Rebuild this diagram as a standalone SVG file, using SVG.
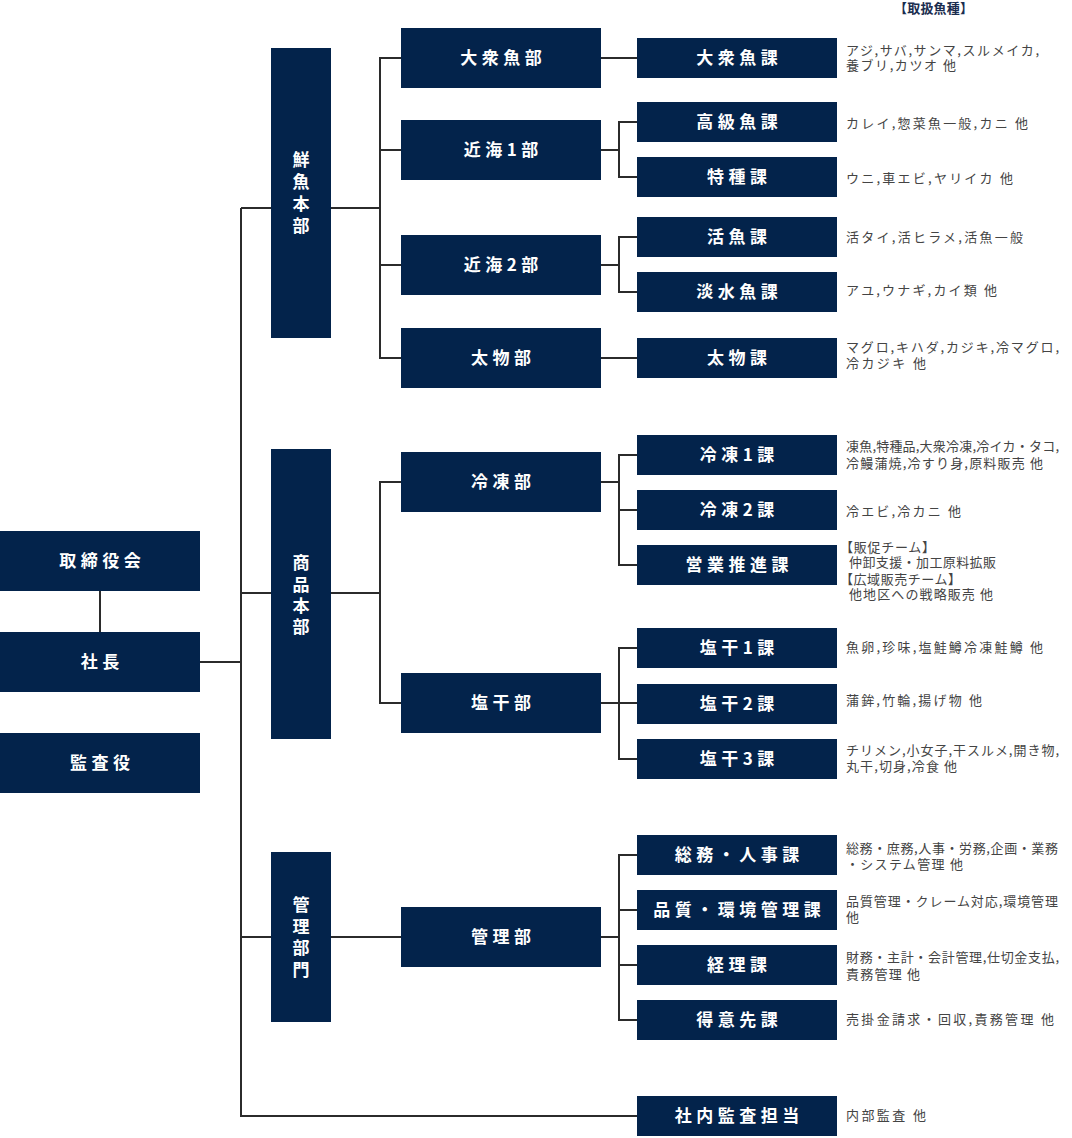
<svg xmlns="http://www.w3.org/2000/svg" width="1072" height="1138" viewBox="0 0 1072 1138">
<style>
.box{fill:#03234b}
.lb{font-family:"Noto Sans CJK JP","Noto Sans",sans-serif;font-size:17px;font-weight:bold;fill:#fff;letter-spacing:4.5px;text-anchor:middle}
.vl{font-family:"Noto Sans CJK JP","Noto Sans",sans-serif;font-size:17px;font-weight:bold;fill:#fff;text-anchor:middle}
.ds{font-family:"Noto Sans CJK JP","Noto Sans",sans-serif;font-size:13px;fill:#444}
.hd{font-family:"Noto Sans CJK JP","Noto Sans",sans-serif;font-size:13px;font-weight:bold;fill:#1b2d4f}
.cn{fill:none;stroke:#2b2b2b;stroke-width:2}
</style>
<rect width="1072" height="1138" fill="#fff"/>
<g id="connectors" class="cn">
<path d="M100,591V632"/>
<path d="M200,662H241"/>
<path d="M241,208V1116H637"/>
<path d="M241,208H271M241,593H271M241,937H271"/>
<path d="M331,208H380M401,58H380V358H401M380,150H401M380,265H401"/>
<path d="M601,58H637"/>
<path d="M601,150H619M637,122H619V177H637"/>
<path d="M601,265H619M637,237H619V292H637"/>
<path d="M601,358H637"/>
<path d="M331,593H380M401,482H380V703H401"/>
<path d="M601,482H619M637,455H619V565H637M619,510H637"/>
<path d="M601,703H637M637,648H619V759H637"/>
<path d="M331,937H401"/>
<path d="M601,937H619M637,855H619V1020H637M619,910H637M619,965H637"/>
</g>
<text class="hd" x="894" y="13" textLength="79" lengthAdjust="spacing">【取扱魚種】</text>
<g id="n-torishimariyakukai"><rect class="box" x="0" y="531" width="200" height="60"/><text class="lb" x="102.25" y="567">取締役会</text></g>
<g id="n-shacho"><rect class="box" x="0" y="632" width="200" height="60"/><text class="lb" x="102.25" y="668">社長</text></g>
<g id="n-kansayaku"><rect class="box" x="0" y="733" width="200" height="60"/><text class="lb" x="102.25" y="769">監査役</text></g>
<g id="n-sengyo"><rect class="box" x="271" y="48" width="60" height="290"/><text class="vl"><tspan x="301" y="166">鮮</tspan><tspan x="301" y="188">魚</tspan><tspan x="301" y="210">本</tspan><tspan x="301" y="232">部</tspan></text></g>
<g id="n-shohin"><rect class="box" x="271" y="449" width="60" height="290"/><text class="vl"><tspan x="301" y="569">商</tspan><tspan x="301" y="591">品</tspan><tspan x="301" y="612">本</tspan><tspan x="301" y="633">部</tspan></text></g>
<g id="n-kanribumon"><rect class="box" x="271" y="852" width="60" height="170"/><text class="vl"><tspan x="301" y="911">管</tspan><tspan x="301" y="933">理</tspan><tspan x="301" y="954">部</tspan><tspan x="301" y="976">門</tspan></text></g>
<g id="n-taishugyobu"><rect class="box" x="401" y="28" width="200" height="60"/><text class="lb" x="503.25" y="64">大衆魚部</text></g>
<g id="n-kinkai1"><rect class="box" x="401" y="120" width="200" height="60"/><text class="lb" x="503.25" y="156">近海1部</text></g>
<g id="n-kinkai2"><rect class="box" x="401" y="235" width="200" height="60"/><text class="lb" x="503.25" y="271">近海2部</text></g>
<g id="n-futomonobu"><rect class="box" x="401" y="328" width="200" height="60"/><text class="lb" x="503.25" y="364">太物部</text></g>
<g id="n-reitobu"><rect class="box" x="401" y="452" width="200" height="60"/><text class="lb" x="503.25" y="488">冷凍部</text></g>
<g id="n-enkanbu"><rect class="box" x="401" y="673" width="200" height="60"/><text class="lb" x="503.25" y="709">塩干部</text></g>
<g id="n-kanribu"><rect class="box" x="401" y="907" width="200" height="60"/><text class="lb" x="503.25" y="943">管理部</text></g>
<g id="n-taishugyoka"><rect class="box" x="637" y="38" width="200" height="40"/><text class="lb" x="739.25" y="64">大衆魚課</text><text class="ds"><tspan x="846" y="55" textLength="193" lengthAdjust="spacing">アジ,サバ,サンマ,スルメイカ,</tspan><tspan x="846" y="70" textLength="110" lengthAdjust="spacing">養ブリ,カツオ 他</tspan></text></g>
<g id="n-kokyugyoka"><rect class="box" x="637" y="102" width="200" height="40"/><text class="lb" x="739.25" y="128">高級魚課</text><text class="ds" x="846" y="128" textLength="182" lengthAdjust="spacing">カレイ,惣菜魚一般,カニ 他</text></g>
<g id="n-tokushuka"><rect class="box" x="637" y="157" width="200" height="40"/><text class="lb" x="739.25" y="183">特種課</text><text class="ds" x="846" y="183" textLength="167" lengthAdjust="spacing">ウニ,車エビ,ヤリイカ 他</text></g>
<g id="n-katsugyoka"><rect class="box" x="637" y="217" width="200" height="40"/><text class="lb" x="739.25" y="243">活魚課</text><text class="ds" x="846" y="242" textLength="177" lengthAdjust="spacing">活タイ,活ヒラメ,活魚一般</text></g>
<g id="n-tansuigyoka"><rect class="box" x="637" y="272" width="200" height="40"/><text class="lb" x="739.25" y="298">淡水魚課</text><text class="ds" x="846" y="295" textLength="151" lengthAdjust="spacing">アユ,ウナギ,カイ類 他</text></g>
<g id="n-futomonoka"><rect class="box" x="637" y="338" width="200" height="40"/><text class="lb" x="739.25" y="364">太物課</text><text class="ds"><tspan x="846" y="352" textLength="213" lengthAdjust="spacing">マグロ,キハダ,カジキ,冷マグロ,</tspan><tspan x="846" y="368" textLength="80" lengthAdjust="spacing">冷カジキ 他</tspan></text></g>
<g id="n-reito1"><rect class="box" x="637" y="435" width="200" height="40"/><text class="lb" x="739.25" y="461">冷凍1課</text><text class="ds"><tspan x="846" y="451" textLength="213" lengthAdjust="spacing">凍魚,特種品,大衆冷凍,冷イカ・タコ,</tspan><tspan x="846" y="468" textLength="197" lengthAdjust="spacing">冷鰻蒲焼,冷すり身,原料販売 他</tspan></text></g>
<g id="n-reito2"><rect class="box" x="637" y="490" width="200" height="40"/><text class="lb" x="739.25" y="516">冷凍2課</text><text class="ds" x="846" y="515.5" textLength="115" lengthAdjust="spacing">冷エビ,冷カニ 他</text></g>
<g id="n-eigyosuishin"><rect class="box" x="637" y="545" width="200" height="40"/><text class="lb" x="739.25" y="571">営業推進課</text><text class="ds"><tspan x="840" y="552" textLength="95" lengthAdjust="spacing">【販促チーム】</tspan><tspan x="849" y="567" textLength="147" lengthAdjust="spacing">仲卸支援・加工原料拡販</tspan><tspan x="840" y="584" textLength="121" lengthAdjust="spacing">【広域販売チーム】</tspan><tspan x="849" y="598.5" textLength="144" lengthAdjust="spacing">他地区への戦略販売 他</tspan></text></g>
<g id="n-enkan1"><rect class="box" x="637" y="628" width="200" height="40"/><text class="lb" x="739.25" y="654">塩干1課</text><text class="ds" x="846" y="652" textLength="197" lengthAdjust="spacing">魚卵,珍味,塩鮭鱒冷凍鮭鱒 他</text></g>
<g id="n-enkan2"><rect class="box" x="637" y="684" width="200" height="40"/><text class="lb" x="739.25" y="710">塩干2課</text><text class="ds" x="846" y="705" textLength="136" lengthAdjust="spacing">蒲鉾,竹輪,揚げ物 他</text></g>
<g id="n-enkan3"><rect class="box" x="637" y="739" width="200" height="40"/><text class="lb" x="739.25" y="765">塩干3課</text><text class="ds"><tspan x="846" y="754.5" textLength="213" lengthAdjust="spacing">チリメン,小女子,干スルメ,開き物,</tspan><tspan x="846" y="771" textLength="111" lengthAdjust="spacing">丸干,切身,冷食 他</tspan></text></g>
<g id="n-somu"><rect class="box" x="637" y="835" width="200" height="40"/><text class="lb" x="739.25" y="861">総務・人事課</text><text class="ds"><tspan x="846" y="853" textLength="212" lengthAdjust="spacing">総務・庶務,人事・労務,企画・業務</tspan><tspan x="846" y="869" textLength="117" lengthAdjust="spacing">・システム管理 他</tspan></text></g>
<g id="n-hinshitsu"><rect class="box" x="637" y="890" width="200" height="40"/><text class="lb" x="739.25" y="916">品質・環境管理課</text><text class="ds"><tspan x="846" y="906" textLength="212" lengthAdjust="spacing">品質管理・クレーム対応,環境管理</tspan><tspan x="846" y="922">他</tspan></text></g>
<g id="n-keiri"><rect class="box" x="637" y="945" width="200" height="40"/><text class="lb" x="739.25" y="971">経理課</text><text class="ds"><tspan x="846" y="962" textLength="213" lengthAdjust="spacing">財務・主計・会計管理,仕切金支払,</tspan><tspan x="846" y="978.5" textLength="74" lengthAdjust="spacing">責務管理 他</tspan></text></g>
<g id="n-tokuisaki"><rect class="box" x="637" y="1000" width="200" height="40"/><text class="lb" x="739.25" y="1026">得意先課</text><text class="ds" x="846" y="1023.5" textLength="208" lengthAdjust="spacing">売掛金請求・回収,責務管理 他</text></g>
<g id="n-shanaikansa"><rect class="box" x="637" y="1096" width="200" height="40"/><text class="lb" x="739.25" y="1122">社内監査担当</text><text class="ds" x="846" y="1119.5" textLength="80" lengthAdjust="spacing">内部監査 他</text></g>
</svg>
